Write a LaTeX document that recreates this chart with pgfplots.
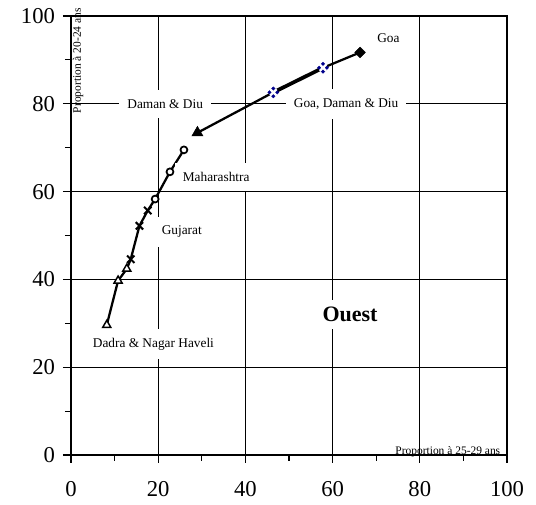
\documentclass[border=0pt]{standalone}
\usepackage{fontspec}
\setmainfont{Liberation Serif}
\usepackage{pgfplots}
\pgfplotsset{compat=1.18}
\definecolor{gddblue}{rgb}{0.0,0.0,0.55}
\begin{document}
\begin{tikzpicture}
\begin{axis}[
  at={(0,0)}, anchor=south west,
  scale only axis, width=327pt, height=329.25pt,
  xmin=0, xmax=100, ymin=0, ymax=100,
  xtick={0,20,40,60,80,100}, ytick={0,20,40,60,80,100},
  minor xtick={10,30,50,70,90}, minor ytick={10,30,50,70,90},
  grid=major, major grid style={black, line width=0.6pt},
  tick align=outside, tick pos=left,
  major tick length=6pt, minor tick length=4.5pt,
  axis line style={line width=1.1pt},
  every tick/.style={black, line width=0.8pt},
  ticklabel style={font=\fontsize{17}{20}\selectfont},
  xticklabel style={yshift=-10pt},
  yticklabel style={xshift=-2.5pt},
  /pgf/number format/assume math mode=true,
  clip=false,
  every node/.append style={font=\fontsize{10}{12}\selectfont},
]
% connecting lines
\addplot[black, line width=1.7pt, mark=none] coordinates {
  (8.2,29.6) (10.8,39.7) (12.8,42.4) (13.7,44.6) (15.7,52.2) (17.6,55.7)
  (19.3,58.3) (22.7,64.5) (25.9,69.5)};
\addplot[black, line width=1.7pt, mark=none] coordinates {(29.0,73.4) (46.4,82.6)};
\addplot[black, line width=2.8pt, mark=none] coordinates {(46.4,82.6) (57.8,88.2)};
\addplot[black, line width=1.7pt, mark=none] coordinates {(57.8,88.2) (66.3,91.7)};
% Dadra & Nagar Haveli
\addplot[only marks, mark=triangle*, mark size=3.5pt, mark options={fill=white, draw=black, line width=1.1pt}]
  coordinates {(8.2,29.6) (10.8,39.7) (12.8,42.4)};
% Gujarat
\addplot[only marks, mark=x, mark size=3.9pt, mark options={draw=black, line width=1.5pt}]
  coordinates {(13.7,44.6) (15.7,52.2) (17.6,55.7)};
% Maharashtra
\addplot[only marks, mark=*, mark size=2.6pt, mark options={fill=white, draw=black, line width=1.3pt}]
  coordinates {(19.3,58.3) (22.7,64.5) (25.9,69.5)};
% Daman & Diu
\addplot[only marks, mark=triangle*, mark size=4.8pt, mark options={fill=black, draw=black}]
  coordinates {(29.0,73.4)};
% Goa, Daman & Diu
\addplot[only marks, mark=square*, mark size=2.9pt, mark options={fill=gddblue, draw=gddblue, rotate=45}]
  coordinates {(46.4,82.6) (57.8,88.2)};
\addplot[only marks, mark=x, mark size=3.4pt, mark options={draw=white, line width=1.7pt}]
  coordinates {(46.4,82.6) (57.8,88.2)};
% Goa
\addplot[only marks, mark=square*, mark size=2.8pt, mark options={fill=black, draw=black, rotate=45}]
  coordinates {(66.3,91.7)};
% labels
\node[fill=white, inner xsep=6pt, inner ysep=7pt] at (axis cs:21.6,80) {Daman \& Diu};
\node[fill=white, inner xsep=6pt, inner ysep=7pt] at (axis cs:63.1,80) {Goa, Daman \& Diu};
\node at (axis cs:72.8,95.0) {Goa};
\node[fill=white, inner xsep=6pt, inner ysep=7pt] at (axis cs:33.3,63.3) {Maharashtra};
\node[fill=white, inner xsep=6pt, inner ysep=7pt] at (axis cs:25.4,50.8) {Gujarat};
\node[fill=white, inner xsep=6pt, inner ysep=7pt] at (axis cs:18.9,25.3) {Dadra \& Nagar Haveli};
\node[fill=white, inner sep=5pt, font=\fontsize{16.5}{20}\selectfont\bfseries] at (axis cs:64,32.0) {Ouest};
\node[rotate=90, anchor=north east, inner sep=0pt, font=\fontsize{8.6}{10}\selectfont] at (axis cs:0.4,101.8) {Proportion à 20-24 ans};
\node[anchor=base east, inner sep=0pt, font=\fontsize{8.6}{10}\selectfont] at (axis cs:98.5,0.2) {Proportion à 25-29 ans};
\end{axis}
\pgfresetboundingbox
\path (-53.25pt,-37.5pt) rectangle (348.75pt,341.25pt);
\end{tikzpicture}
\end{document}
